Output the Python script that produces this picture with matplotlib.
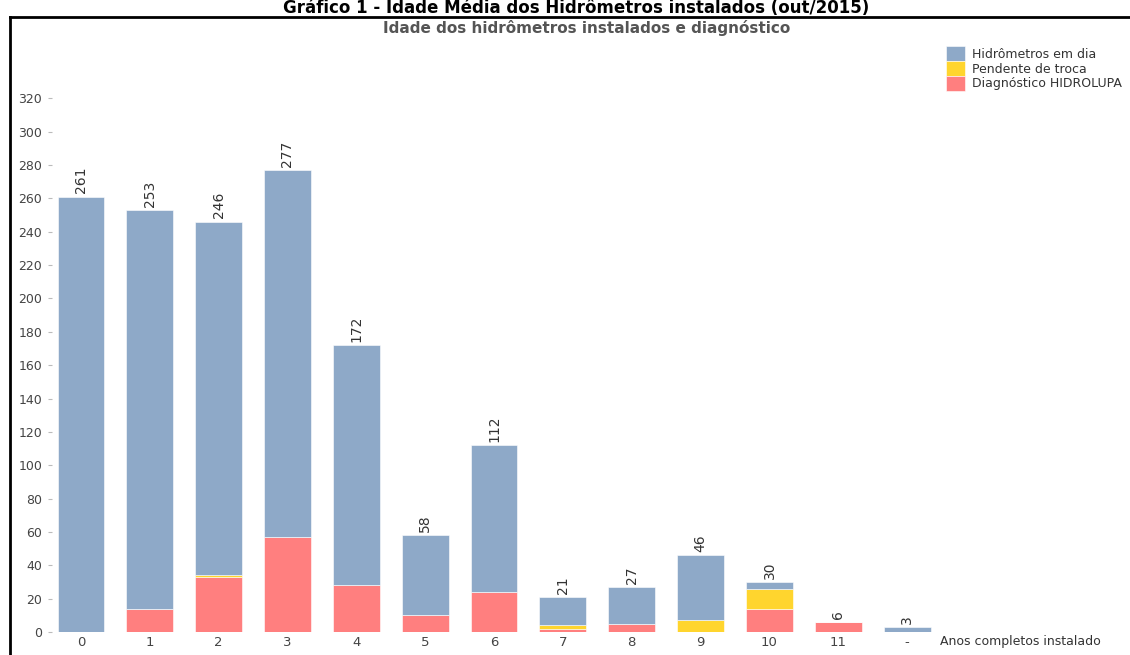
import numpy as np
import matplotlib.pyplot as plt
from matplotlib.lines import Line2D

# categories (complete years installed)
anos = ['0', '1', '2', '3', '4', '5', '6', '7', '8', '9', '10', '11', '-']
totais = [261, 253, 246, 277, 172, 58, 112, 21, 27, 46, 30, 6, 3]
diagnostico = [0, 14, 33, 57, 28, 10, 24, 2, 5, 0, 14, 6, 0]
pendente = [0, 0, 1, 0, 0, 0, 0, 2, 0, 7, 12, 0, 0]
em_dia = [t - d - p for t, d, p in zip(totais, diagnostico, pendente)]

c_azul = '#8EA9C8'
c_amarelo = '#FFD52E'
c_vermelho = '#FF7F7F'

fig = plt.figure(figsize=(11.3, 6.55), dpi=100)
ax = fig.add_axes([52 / 1130, 23 / 655, (1122 - 52) / 1130, (655 - 23 - 90) / 655])

x = np.arange(len(anos))
w = 0.68
ax.bar(x, diagnostico, w, color=c_vermelho, edgecolor='white', linewidth=0.4,
       label='Diagnóstico HIDROLUPA')
ax.bar(x, pendente, w, bottom=diagnostico, color=c_amarelo, edgecolor='white',
       linewidth=0.4, label='Pendente de troca')
base = [d + p for d, p in zip(diagnostico, pendente)]
ax.bar(x, em_dia, w, bottom=base, color=c_azul, edgecolor='white', linewidth=0.4,
       label='Hidrômetros em dia')

for xi, t in zip(x, totais):
    ax.text(xi, t + 2, str(t), rotation=90, ha='center', va='bottom',
            fontsize=10, color='#333333')

ax.set_xlim(-0.42, 15.12)
ax.set_ylim(0, 325)
ax.set_yticks(range(0, 321, 20))
ax.set_xticks(x)
ax.set_xticklabels(anos)
ax.tick_params(axis='y', length=3, color='#bbbbbb', labelsize=9, labelcolor='#444444', pad=4)
ax.tick_params(axis='x', length=0, labelsize=9.5, labelcolor='#444444', pad=3)
for s in ax.spines.values():
    s.set_visible(False)

ax.text(12.48, -5.5, 'Anos completos instalado', ha='left', va='center',
        fontsize=9, color='#333333', clip_on=False)

# legend
h, l = ax.get_legend_handles_labels()
leg = ax.legend(h[::-1], l[::-1], loc='upper left', bbox_to_anchor=(889 / 1070, 1.09),
                frameon=False, fontsize=9, handlelength=1.5, handleheight=1.45,
                labelspacing=0.0, handletextpad=0.55, borderaxespad=0)
for t in leg.get_texts():
    t.set_color('#333333')

# chart title
fig.text(587 / 1130, 1 - 28 / 655, 'Idade dos hidrômetros instalados e diagnóstico',
         ha='center', va='center', fontsize=11, fontweight='bold', color='#555555')

# outer frame and heading
fig.add_artist(Line2D([10 / 1130, 10 / 1130], [0, 1 - 17 / 655], color='black', lw=2,
                      transform=fig.transFigure))
fig.add_artist(Line2D([10 / 1130, 1.0], [1 - 17 / 655, 1 - 17 / 655], color='black', lw=2,
                      transform=fig.transFigure))
fig.text(576 / 1130, 1 - 8 / 655, 'Gráfico 1 - Idade Média dos Hidrômetros instalados (out/2015)',
         ha='center', va='center', fontsize=12, fontweight='bold', color='black')

fig.savefig('out.png', dpi=100)
